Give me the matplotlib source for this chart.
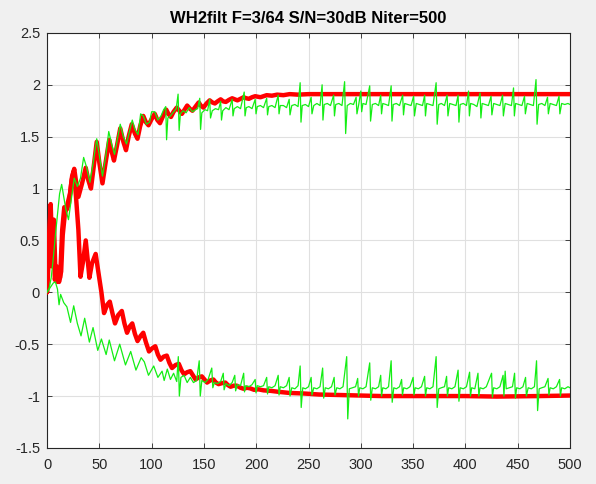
import matplotlib
matplotlib.use("Agg")
import matplotlib.pyplot as plt

title = "WH2filt F=3/64 S/N=30dB Niter=500"
x_ticks = [0, 50, 100, 150, 200, 250, 300, 350, 400, 450, 500]
y_ticks = [-1.5, -1, -0.5, 0, 0.5, 1, 1.5, 2, 2.5]
y_tick_labels = ["-1.5", "-1", "-0.5", "0", "0.5", "1", "1.5", "2", "2.5"]

# estimated (iteration, value) pairs
red_upper = [
    (0, 0.0), (1.5, 0.45), (3.5, 0.85), (5, 0.35), (6.5, 0.7), (8, 0.2), (10, 0.1),
    (12.5, 0.14), (14.5, 0.6), (16.5, 0.82), (19, 0.8), (21, 0.86), (23.5, 1.08),
    (26, 1.19), (28, 1.05), (30, 0.92), (33.5, 1.05), (37, 1.2), (39.5, 1.08), (42, 1.0),
    (44.5, 1.2), (47.5, 1.45), (50, 1.25), (53, 1.05), (56, 1.25), (59.5, 1.47),
    (62, 1.35), (64, 1.27), (67, 1.42), (70, 1.58), (73, 1.45), (75.5, 1.37), (78, 1.5),
    (81, 1.62), (84, 1.53), (86.5, 1.48), (89, 1.6), (92, 1.7), (94.5, 1.64), (97, 1.61),
    (100, 1.67), (103, 1.72), (105.5, 1.66), (108, 1.63), (111, 1.7), (114, 1.76),
    (116, 1.72), (118.5, 1.69), (121, 1.74), (124, 1.78), (126.5, 1.75), (129, 1.72),
    (131.5, 1.76), (134, 1.80), (136.5, 1.77), (139, 1.75), (142, 1.79), (145, 1.83),
    (147, 1.80), (149.5, 1.78), (152.5, 1.82), (155.5, 1.85), (158, 1.83), (160.5, 1.82),
    (163, 1.84), (166, 1.86), (168.5, 1.84), (171, 1.835), (174, 1.855), (177, 1.87),
    (179.5, 1.86), (182, 1.85), (185, 1.865), (188, 1.88), (190.5, 1.87), (193, 1.865),
    (196, 1.88), (199, 1.89), (201.5, 1.885), (204, 1.88), (207, 1.89), (210, 1.9),
    (215, 1.895), (220, 1.905), (226, 1.9), (232, 1.91), (240, 1.905), (250, 1.91),
    (300, 1.91), (400, 1.91), (500, 1.91),
]

red_lower = [
    (0, 0.0), (1.5, 0.3), (3, 0.7), (4.5, 0.25), (6, 0.62), (7.5, 0.12), (9.5, 0.25),
    (11.5, 0.1), (13.5, 0.2), (15, 0.55), (17, 0.75), (19.5, 0.85), (22, 0.95),
    (24, 1.12), (25.5, 1.17), (27.5, 0.95), (30, 0.6), (32, 0.15), (34.5, 0.3),
    (37, 0.5), (39, 0.3), (40.5, 0.14), (43, 0.28), (46.5, 0.37), (49, 0.2), (52, 0.0),
    (54.5, -0.2), (57.5, -0.12), (60, -0.09), (62.5, -0.2), (65, -0.3), (68, -0.22),
    (71.5, -0.18), (74, -0.3), (76.5, -0.39), (79, -0.33), (81.5, -0.3), (84, -0.4),
    (86.5, -0.47), (89.5, -0.42), (92, -0.39), (94.5, -0.48), (97.5, -0.57),
    (100.5, -0.54), (103.5, -0.52), (106, -0.6), (108.5, -0.65), (111.5, -0.62),
    (114.5, -0.61), (117, -0.68), (119.5, -0.73), (123, -0.7), (126, -0.69),
    (128.5, -0.75), (131, -0.79), (134, -0.77), (137, -0.76), (139.5, -0.8),
    (142, -0.84), (145, -0.82), (148, -0.81), (150.5, -0.84), (153, -0.87),
    (156, -0.85), (159, -0.84), (161.5, -0.87), (164, -0.885), (167.5, -0.875),
    (170.5, -0.87), (173, -0.895), (175.5, -0.91), (178.5, -0.9), (181.5, -0.9),
    (185, -0.92), (188, -0.93), (191, -0.92), (194, -0.925), (198, -0.94),
    (202, -0.935), (207, -0.945), (214, -0.95), (222, -0.96), (232, -0.97),
    (245, -0.975), (260, -0.985), (280, -0.99), (320, -1.0), (400, -1.0),
    (430, -1.005), (470, -1.0), (500, -0.995),
]

green_upper = [
    (0, 0.0), (2, 0.04), (4, 0.14), (6, 0.33), (8, 0.55), (10, 0.75), (12, 0.95),
    (14, 1.04), (16, 0.92), (18, 0.8), (20.5, 0.7), (23, 0.88), (26, 1.1), (29, 1.02),
    (32, 1.1), (35, 1.30), (38, 1.2), (41, 1.06), (44, 1.24), (47.5, 1.48), (50, 1.32),
    (53, 1.12), (56, 1.3), (59, 1.55), (62, 1.42), (64.5, 1.33), (67, 1.46), (70, 1.62),
    (73, 1.5), (76, 1.43), (79, 1.56), (81.5, 1.66), (84, 1.57), (87, 1.52),
    (89.5, 1.72), (92, 1.7), (95, 1.62), (98, 1.64), (100, 1.74), (103, 1.74),
    (106, 1.66), (109, 1.7), (111.5, 1.76), (113.5, 1.79), (114.3, 1.47), (115.5, 1.68),
    (118, 1.7), (121, 1.74), (123.5, 1.77), (125.3, 1.91), (126.3, 1.56), (127.5, 1.72),
    (130, 1.75), (133, 1.73), (136, 1.78), (139, 1.74), (142, 1.76), (144, 1.77),
    (146, 1.87), (146.8, 1.57), (148, 1.73), (151, 1.76), (153.5, 1.75), (155.5, 1.86),
    (156.3, 1.68), (158, 1.75), (161, 1.77), (164, 1.76), (166, 1.84), (166.8, 1.66),
    (168, 1.75), (171, 1.78), (174, 1.76), (177, 1.86), (177.8, 1.70), (179, 1.77),
    (182, 1.79), (185, 1.77), (188.5, 1.93), (189.3, 1.7), (190.5, 1.78), (193, 1.79),
    (196, 1.77), (199, 1.86), (199.8, 1.72), (201, 1.79), (204, 1.8), (207, 1.78),
    (210, 1.87), (210.8, 1.71), (212, 1.79), (215, 1.80), (218, 1.78), (221, 1.9),
    (221.8, 1.72), (223, 1.8), (226, 1.8), (229, 1.78), (231.5, 1.86), (232.3, 1.71),
    (234, 1.8), (237, 1.81), (240, 1.79), (242, 2.02), (242.8, 1.64), (244, 1.8),
    (247, 1.81), (250, 1.79), (252.5, 1.88), (253.3, 1.72), (255, 1.8), (258, 1.82),
    (261, 1.8), (263, 2.0), (263.8, 1.66), (265, 1.81), (268, 1.82), (271, 1.8),
    (274, 1.9), (274.8, 1.7), (276, 1.81), (279, 1.82), (282, 1.8), (284.5, 2.03),
    (285.5, 1.53), (287, 1.8), (290, 1.82), (293, 1.81), (295.5, 1.88), (296.3, 1.72),
    (298, 1.81), (300, 1.94), (300.8, 1.74), (302, 1.82), (305, 1.81), (308.5, 1.99),
    (309.3, 1.65), (311, 1.81), (314, 1.82), (317, 1.8), (319, 1.9), (319.8, 1.72),
    (321, 1.82), (324, 1.81), (326.5, 1.8), (329, 1.99), (329.8, 1.65), (331, 1.81),
    (334, 1.82), (337, 1.8), (340, 1.9), (340.8, 1.71), (342, 1.82), (345, 1.81),
    (348, 1.8), (350.5, 1.89), (351.3, 1.7), (353, 1.82), (356, 1.81), (359, 1.8),
    (361, 1.9), (361.8, 1.7), (363, 1.82), (366, 1.81), (369, 1.8), (372, 2.02),
    (373, 1.62), (374.5, 1.81), (377, 1.82), (380, 1.8), (382.5, 1.9), (383.3, 1.7),
    (385, 1.82), (388, 1.81), (391, 1.8), (393, 1.9), (393.8, 1.64), (395, 1.81),
    (398, 1.82), (401, 1.8), (403, 1.94), (403.8, 1.7), (405, 1.82), (408, 1.81),
    (411, 1.79), (414, 1.92), (414.8, 1.68), (416, 1.82), (419, 1.81), (422, 1.8),
    (424.5, 1.89), (425.3, 1.71), (427, 1.82), (430, 1.81), (433, 1.8), (435.5, 1.9),
    (436.3, 1.7), (438, 1.82), (441, 1.81), (444, 1.8), (446, 1.97), (446.8, 1.7),
    (448, 1.82), (451, 1.81), (454, 1.8), (456.5, 1.89), (457.3, 1.72), (459, 1.82),
    (462, 1.81), (465, 1.8), (467.5, 2.05), (468.5, 1.62), (470, 1.81), (473, 1.82),
    (476, 1.8), (478.5, 1.88), (479.3, 1.72), (481, 1.82), (484, 1.81), (487, 1.8),
    (489.5, 1.89), (490.3, 1.72), (492, 1.82), (495, 1.81), (498, 1.82), (500, 1.81),
]

green_lower = [
    (0, 0.0), (2, 0.03), (4, 0.06), (6, 0.09), (8, 0.1), (10, 0.03), (11.5, -0.12),
    (13, -0.02), (16, -0.1), (19, -0.14), (22.5, -0.29), (25.5, -0.13), (29, -0.3),
    (32.5, -0.42), (36, -0.25), (40.5, -0.48), (44, -0.34), (48.5, -0.56), (52, -0.45),
    (56.5, -0.6), (59.5, -0.46), (64.5, -0.66), (69.5, -0.5), (75, -0.7), (80, -0.57),
    (85, -0.75), (90, -0.63), (93, -0.67), (97, -0.8), (102, -0.71), (106, -0.82),
    (110, -0.76), (112, -0.85), (115, -0.74), (118, -0.84), (121, -0.78), (124, -0.86),
    (125.5, -0.62), (126.5, -1.0), (128, -0.82), (131, -0.8), (134, -0.87), (137, -0.82),
    (140, -0.87), (143, -0.85), (145.5, -0.66), (146.5, -1.0), (148, -0.85), (151, -0.87),
    (154, -0.84), (157.5, -0.73), (158.5, -0.92), (160, -0.87), (163, -0.88),
    (166, -0.86), (168.5, -0.78), (169.3, -0.94), (171, -0.88), (174, -0.9),
    (177, -0.87), (179.5, -0.8), (180.3, -0.95), (182, -0.89), (185, -0.9),
    (188, -0.78), (188.8, -0.96), (190, -0.9), (193, -0.91), (196, -0.89),
    (199, -0.84), (199.8, -0.97), (201, -0.9), (204, -0.91), (207, -0.9), (210, -0.82),
    (210.8, -0.98), (212, -0.91), (215, -0.92), (218, -0.9), (221, -0.8), (221.8, -0.99),
    (223, -0.91), (226, -0.92), (229, -0.9), (231.5, -0.82), (232.3, -1.0), (234, -0.92),
    (237, -0.93), (240, -0.9), (242, -0.71), (243, -1.11), (244.5, -0.92), (247, -0.93),
    (250, -0.91), (252.5, -0.82), (253.3, -0.99), (255, -0.92), (258, -0.93),
    (261, -0.91), (263.5, -0.73), (264.5, -1.02), (266, -0.92), (269, -0.93),
    (272, -0.91), (274.5, -0.82), (275.3, -0.99), (277, -0.92), (280, -0.93),
    (283, -0.91), (286.5, -0.62), (287.5, -1.22), (289, -0.93), (292, -0.92),
    (295, -0.91), (297, -0.83), (297.8, -1.0), (299, -0.92), (302, -0.93), (305, -0.91),
    (308.5, -0.68), (309.5, -1.04), (311, -0.92), (314, -0.93), (317, -0.91),
    (319, -0.8), (319.8, -1.0), (321, -0.92), (324, -0.93), (326.5, -0.91),
    (329, -0.66), (330, -1.06), (331.5, -0.92), (334, -0.93), (337, -0.91),
    (339, -0.84), (339.8, -0.99), (341, -0.92), (344, -0.93), (347, -0.91),
    (350, -0.82), (350.8, -0.99), (352, -0.92), (355, -0.93), (358, -0.91),
    (361, -0.81), (361.8, -1.0), (363, -0.92), (366, -0.93), (369, -0.91),
    (372, -0.62), (373, -1.11), (374.5, -0.93), (377, -0.92), (380, -0.91),
    (382, -0.81), (382.8, -1.0), (384, -0.92), (387, -0.93), (390, -0.91),
    (393, -0.75), (393.8, -1.05), (395, -0.92), (398, -0.93), (401, -0.91),
    (404, -0.77), (404.8, -1.0), (406, -0.92), (409, -0.93), (412, -0.78),
    (412.8, -1.0), (414, -0.92), (417, -0.93), (420, -0.91), (425, -0.78),
    (425.8, -1.01), (427, -0.92), (430, -0.93), (433, -0.91), (436, -0.8),
    (436.8, -1.0), (438, -0.76), (439, -0.93), (442, -0.92), (445, -0.91),
    (447, -0.78), (447.8, -1.02), (449, -0.92), (452, -0.93), (455, -0.91),
    (457.5, -0.82), (458.3, -1.0), (460, -0.92), (463, -0.93), (466, -0.91),
    (468, -0.66), (469, -1.14), (470.5, -0.93), (473, -0.92), (476, -0.91),
    (479, -0.83), (479.8, -0.99), (481, -0.92), (484, -0.93), (487, -0.91),
    (490, -0.84), (490.8, -1.0), (492, -0.92), (495, -0.93), (498, -0.91), (500, -0.92),
]

plt.rcParams["font.family"] = ["Liberation Sans", "DejaVu Sans"]
plt.rcParams["axes.unicode_minus"] = False

fig = plt.figure(figsize=(5.96, 4.84), dpi=100, facecolor="#f0f0f0")
ax = fig.add_axes([0.0789, 0.0745, 0.8775, 0.8575])
ax.set_facecolor("white")

def xy(pts):
    return [p[0] for p in pts], [p[1] for p in pts]

for series in (red_upper, red_lower):
    xs, ys = xy(series)
    ax.plot(xs, ys, color="#ff0000", lw=3.2, solid_joinstyle="round",
            solid_capstyle="round", zorder=3)
for series in (green_upper, green_lower):
    xs, ys = xy(series)
    ax.plot(xs, ys, color="#14ee14", lw=0.9, zorder=4)

ax.set_xlim(0, 500)
ax.set_ylim(-1.5, 2.5)
ax.set_xticks(x_ticks)
ax.set_yticks(y_ticks)
ax.set_yticklabels(y_tick_labels)
ax.grid(True, color="#e0e0e0", lw=0.8)
ax.set_axisbelow(True)
ax.tick_params(direction="in", length=3.5, width=0.6, top=True, right=True,
               labelsize=10.5, colors="#262626")
ax.tick_params(axis="x", pad=7)
ax.tick_params(axis="y", pad=5)
for s in ax.spines.values():
    s.set_color("#262626")
    s.set_linewidth(0.8)
ax.set_title(title, fontsize=12, fontweight="bold", color="black", pad=7)

fig.savefig("out.png", dpi=100, facecolor=fig.get_facecolor())
